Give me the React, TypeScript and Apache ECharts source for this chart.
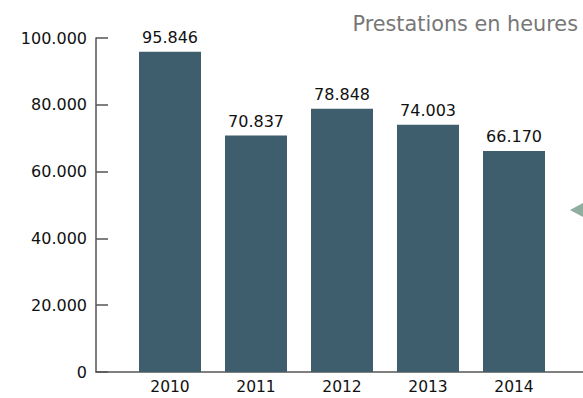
import React, { useEffect, useRef } from "react";
import * as echarts from "echarts";

const categories = ["2010", "2011", "2012", "2013", "2014"];
const values = [95846, 70837, 78848, 74003, 66170];
const yTicks = [0, 20000, 40000, 60000, 80000, 100000];
const title = "Prestations en heures";

const fmt = (v: number) => {
  if (v === 0) return "0";
  const s = String(Math.round(v));
  return s.replace(/\B(?=(\d{3})+(?!\d))/g, ".");
};

export default function App() {
  const ref = useRef<HTMLDivElement>(null);
  useEffect(() => {
    document.body.style.margin = "0";
    const chart = echarts.init(ref.current!, undefined, { renderer: "svg" });
    const font = "DejaVu Sans";
    chart.setOption({
      animation: false,
      textStyle: { fontFamily: font },
      title: {
        text: title,
        right: 0,
        top: 8,
        textStyle: { fontFamily: font, fontSize: 20.8, fontWeight: "normal", color: "#777777" },
      },
      grid: [
        { left: 127, right: 26, top: 38, bottom: 26 },
        { left: 96, right: 0, top: 38, bottom: 26 },
      ],
      xAxis: [
        {
          type: "category",
          gridIndex: 0,
          data: categories,
          axisLine: { show: false },
          axisTick: { show: false },
          axisLabel: { color: "#111", fontSize: 15.5, margin: 7, fontFamily: font },
        },
        {
          type: "value",
          gridIndex: 1,
          min: 0,
          max: 1,
          axisLine: { show: true, onZero: false, lineStyle: { color: "#555", width: 1.5 } },
          axisTick: { show: false },
          axisLabel: { show: false },
          splitLine: { show: false },
        },
      ],
      yAxis: [
        {
          type: "value",
          gridIndex: 0,
          min: 0,
          max: 100000,
          interval: 20000,
          show: false,
        },
        {
          type: "value",
          gridIndex: 1,
          min: yTicks[0],
          max: yTicks[yTicks.length - 1],
          interval: 20000,
          axisLine: { show: true, lineStyle: { color: "#555", width: 1.5 } },
          axisTick: { show: true, inside: true, length: 12, lineStyle: { color: "#555", width: 1.5 } },
          axisLabel: { color: "#111", fontSize: 16, margin: 9, fontFamily: font, formatter: (v: number) => fmt(v) },
          splitLine: { show: false },
        },
      ],
      series: [
        {
          type: "bar",
          xAxisIndex: 0,
          yAxisIndex: 0,
          data: values,
          barWidth: 62,
          itemStyle: { color: "#3e5e6d" },
          label: {
            show: true,
            position: "top",
            distance: 6,
            color: "#111",
            fontSize: 16,
            fontFamily: font,
            formatter: (p: any) => fmt(p.value),
          },
        },
      ],
      graphic: [
        {
          type: "polygon",
          shape: { points: [[570, 210], [583, 203], [583, 217]] },
          style: { fill: "#8fae9f" },
        },
      ],
    });
    return () => chart.dispose();
  }, []);
  return <div ref={ref} style={{ width: 583, height: 398 }} />;
}
